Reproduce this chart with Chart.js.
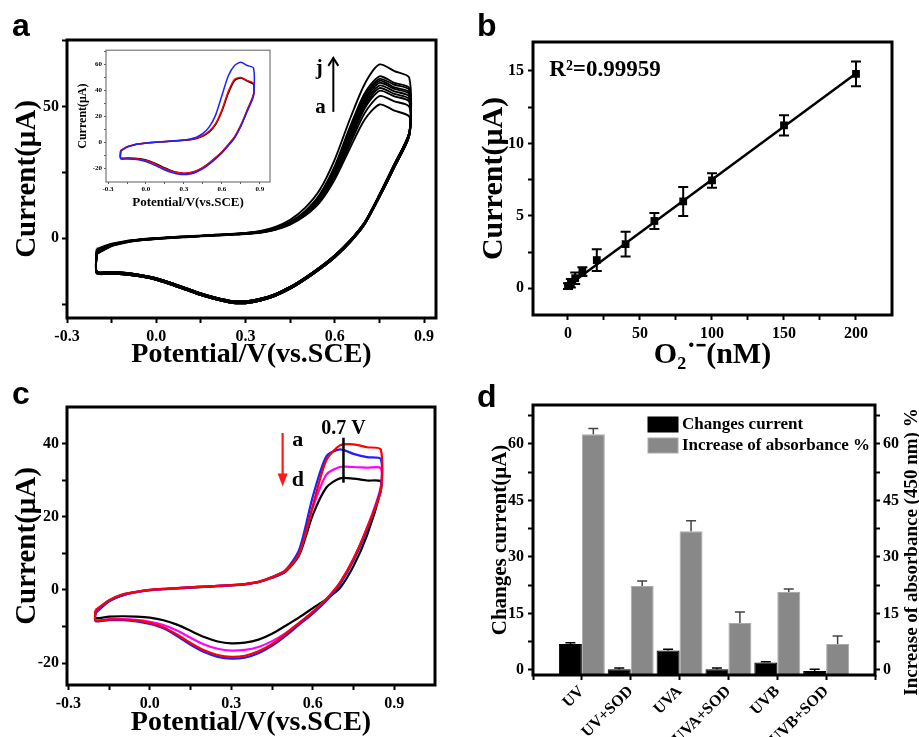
<!DOCTYPE html>
<html>
<head>
<meta charset="utf-8">
<script src="https://cdn.jsdelivr.net/npm/chart.js@4.4.1/dist/chart.umd.min.js"></script>
<style>
  html, body { margin: 0; padding: 0; background: #fff; }
  #fig { position: relative; width: 919px; height: 737px; overflow: hidden; background: #fff; }
  #fig canvas { position: absolute; }
  .tag { position: absolute; font: bold 32px 'Liberation Sans', Arial, sans-serif; line-height: 32px; color: #000; }
</style>
</head>
<body>
<div id="fig">
  <canvas id="cvA" width="460" height="370" style="left:0;top:0"></canvas>
  <canvas id="cvInset" width="205" height="168" style="left:72px;top:44px"></canvas>
  <canvas id="cvB" width="459" height="370" style="left:460px;top:0"></canvas>
  <canvas id="cvC" width="460" height="367" style="left:0;top:370px"></canvas>
  <canvas id="cvD" width="459" height="367" style="left:460px;top:370px"></canvas>
  <div class="tag" style="left:12px;top:9px">a</div>
  <div class="tag" style="left:477px;top:9px">b</div>
  <div class="tag" style="left:12px;top:377px">c</div>
  <div class="tag" style="left:477px;top:380px">d</div>
</div>
<script>
var SERIF = "'Liberation Serif','Times New Roman',serif";

// potential grid of a CV scan: forward sweep then reverse sweep (V vs SCE)
var potFwd = [-0.2, -0.15, -0.1, -0.05, 0, 0.05, 0.1, 0.15, 0.2, 0.25, 0.3, 0.35, 0.4, 0.45, 0.5, 0.55, 0.6, 0.65, 0.7, 0.75, 0.8, 0.85];
var potRev = [0.85, 0.8, 0.75, 0.7, 0.65, 0.6, 0.55, 0.5, 0.45, 0.4, 0.35, 0.3, 0.25, 0.2, 0.15, 0.1, 0.05, 0, -0.05, -0.1, -0.15, -0.2];
var potTicks = [-0.3, -0.15, 0, 0.15, 0.3, 0.45, 0.6, 0.75, 0.9];
var potLabels = [-0.3, 0, 0.3, 0.6, 0.9];

// panel a: scans a..j, forward branch (uA)
var scanA = [-6.0, -3.0, -1.6, -0.8, -0.3, 0.1, 0.4, 0.7, 1.0, 1.3, 1.6, 2.1, 3.2, 5.2, 8.5, 13.7, 22.4, 34.0, 45.0, 50.8, 48.5, 46.2];
var scanB = [-5.8, -2.9, -1.5, -0.7, -0.2, 0.2, 0.5, 0.8, 1.1, 1.4, 1.7, 2.2, 3.3, 5.4, 8.8, 14.2, 23.2, 35.5, 47.5, 54.0, 52.0, 50.0];
var scanC = [-5.6, -2.8, -1.5, -0.7, -0.2, 0.2, 0.5, 0.8, 1.1, 1.4, 1.7, 2.3, 3.4, 5.6, 9.0, 14.6, 23.9, 36.5, 49.3, 56.0, 53.9, 51.9];
var scanD = [-5.5, -2.8, -1.4, -0.6, -0.1, 0.2, 0.5, 0.8, 1.1, 1.4, 1.8, 2.3, 3.5, 5.7, 9.2, 14.9, 24.4, 37.3, 50.3, 57.0, 54.8, 52.8];
var scanE = [-5.3, -2.7, -1.4, -0.6, -0.1, 0.3, 0.6, 0.9, 1.2, 1.5, 1.8, 2.4, 3.5, 5.8, 9.4, 15.2, 25.0, 38.2, 51.3, 58.0, 55.8, 53.8];
var scanF = [-5.1, -2.6, -1.3, -0.6, -0.1, 0.3, 0.6, 0.9, 1.2, 1.5, 1.8, 2.4, 3.6, 5.9, 9.6, 15.6, 25.6, 39.0, 52.2, 59.0, 56.7, 54.7];
var scanG = [-4.9, -2.5, -1.3, -0.5, 0.0, 0.3, 0.6, 0.9, 1.2, 1.5, 1.9, 2.5, 3.7, 6.0, 9.8, 16.0, 26.2, 40.0, 53.0, 59.8, 57.3, 55.3];
var scanH = [-4.7, -2.4, -1.2, -0.5, 0.0, 0.3, 0.6, 0.9, 1.2, 1.5, 1.9, 2.5, 3.8, 6.1, 10.0, 16.3, 26.8, 41.0, 54.0, 60.5, 58.3, 56.3];
var scanI = [-4.4, -2.3, -1.2, -0.5, 0.0, 0.4, 0.7, 1.0, 1.3, 1.6, 2.0, 2.6, 3.9, 6.3, 10.3, 16.8, 27.5, 42.0, 55.0, 61.5, 59.0, 57.0];
var scanJ = [-4.0, -2.1, -1.0, -0.4, 0.1, 0.4, 0.7, 1.0, 1.3, 1.6, 2.0, 2.8, 4.3, 7.0, 11.5, 18.5, 30.0, 45.0, 58.5, 66.0, 63.5, 61.0];
// panel a: reverse branches (two slightly different groups)
var backInner = [40, 28, 16.5, 6, -1, -6.5, -11, -15, -18.5, -21.2, -23, -24, -23.8, -22.6, -21, -19, -17, -15.2, -14, -13.2, -12.8, -12.7];
var backOuter = [39, 27, 15.7, 5.3, -1.7, -7.2, -11.7, -15.7, -19.2, -21.9, -23.7, -24.7, -24.5, -23.2, -21.6, -19.6, -17.6, -15.8, -14.6, -13.8, -13.4, -13.3];

// inset of panel a
var insetBlueFwd = [-6.5, -3.5, -2, -1, -0.4, 0.1, 0.5, 0.8, 1.1, 1.5, 2.0, 2.8, 4.2, 7.0, 12.0, 21.0, 36.0, 51.0, 59.0, 61.5, 59.0, 57.0];
var insetRedFwd = [-6.0, -3.2, -1.8, -0.9, -0.3, 0.1, 0.5, 0.8, 1.1, 1.4, 1.8, 2.4, 3.4, 5.4, 8.8, 14.5, 25.0, 39.0, 48.5, 49.8, 47.5, 45.5];
var insetBlackFwd = [-6.2, -3.3, -1.9, -0.9, -0.3, 0.1, 0.4, 0.7, 1.0, 1.3, 1.7, 2.2, 3.1, 5.0, 8.2, 13.8, 24.0, 37.5, 47.5, 49.5, 47.0, 44.5];
var insetBlueRev = [36, 24, 12.5, 3.5, -2.5, -8, -12.5, -16.5, -20, -22.5, -24, -24.5, -24, -22.8, -21, -18.8, -16.5, -14.5, -13.3, -12.7, -12.5, -12.5];
var insetRedRev = [37, 25, 13.5, 4.5, -1.5, -7, -11.5, -15.5, -19, -21.5, -23, -23.5, -23, -21.8, -20, -17.8, -15.5, -13.8, -12.7, -12.2, -12, -12];
var insetBlackRev = [36.5, 24.5, 13, 4, -2, -7.2, -11.7, -15.7, -19.2, -21.7, -23.2, -23.6, -23, -21.5, -19.5, -17.2, -15, -13.4, -12.4, -12, -11.8, -11.8];

// panel b: calibration
var o2Conc = [0, 2, 5, 10, 20, 40, 60, 80, 100, 150, 200];
var o2Current = [0.15, 0.35, 0.7, 1.15, 1.95, 3.05, 4.65, 6.0, 7.45, 11.25, 14.8];
var o2Err = [0.2, 0.3, 0.4, 0.3, 0.75, 0.85, 0.55, 1.0, 0.5, 0.7, 0.85];
var fitConc = [0, 200];
var fitCurrent = [0.18, 14.82];

// panel c: curves a..d
var cRedFwd = [-5.5, -2.8, -1.2, -0.5, 0, 0.3, 0.5, 0.7, 0.9, 1.1, 1.3, 1.6, 2.2, 3.5, 5.3, 10, 23, 35.5, 39.5, 39.8, 39, 38.4];
var cBlueFwd = [-5.8, -2.9, -1.3, -0.5, 0, 0.3, 0.5, 0.7, 0.9, 1.1, 1.3, 1.6, 2.2, 3.5, 5.4, 11, 25.5, 36.5, 38.4, 37.2, 36.3, 35.8];
var cMagentaFwd = [-6.0, -3.0, -1.4, -0.6, -0.1, 0.2, 0.5, 0.7, 0.9, 1.1, 1.3, 1.6, 2.2, 3.4, 5.2, 10, 22.5, 31.5, 33.6, 33.6, 33.4, 33.3];
var cBlackFwd = [-6.3, -3.1, -1.5, -0.6, -0.1, 0.2, 0.4, 0.6, 0.8, 1.0, 1.2, 1.5, 2.1, 3.3, 5.0, 9.5, 20.5, 28, 30.5, 30.4, 29.9, 29.7];
var cRedRev = [27, 17, 8.5, 2, -2.5, -6, -9, -12, -14.8, -16.8, -18, -18.3, -17.8, -16.5, -14.5, -12.2, -10.2, -9, -8.4, -8.1, -8.1, -8.3];
var cBlueRev = [27.5, 16.5, 8, 1.5, -3, -6.5, -9.5, -12.6, -15.3, -17.3, -18.5, -18.8, -18.3, -17, -15, -12.6, -10.5, -9.3, -8.6, -8.3, -8.3, -8.5];
var cMagentaRev = [28, 17, 8.5, 2, -2.5, -6, -9, -11.8, -14, -15.6, -16.4, -16.6, -16.1, -14.9, -13.1, -11.1, -9.6, -8.7, -8.2, -8, -8, -8.3];
var cBlackRev = [27, 15, 6.5, 0.5, -2.5, -5, -7.5, -9.8, -12, -13.6, -14.4, -14.6, -14.1, -12.9, -11.2, -9.5, -8.3, -7.6, -7.3, -7.2, -7.3, -7.7];

// panel d: bars
var conditions = ['UV', 'UV+SOD', 'UVA', 'UVA+SOD', 'UVB', 'UVB+SOD'];
var currentChange = [6.9, 0.2, 5.2, 0.2, 2.0, -0.3];
var currentErr = [0.3, 0.3, 0.3, 0.3, 0.2, 0.5];
var absorbIncrease = [62.6, 22.3, 36.8, 12.5, 20.7, 6.9];
var absorbErr = [1.5, 1.3, 2.8, 2.9, 0.8, 2.1];

Chart.defaults.font.family = SERIF;
Chart.defaults.color = '#000';

function isIn(list, v) {
  return list.some(function (l) { return Math.abs(l - v) < 1e-9; });
}

function mkAxis(o) {
  return {
    type: 'linear',
    position: o.position,
    min: o.min,
    max: o.max,
    bounds: 'data',
    offset: false,
    afterBuildTicks: function (s) { s.ticks = o.ticks.map(function (v) { return { value: v }; }); },
    afterFit: function (s) { if (s.isHorizontal()) s.height = o.size; else s.width = o.size; },
    ticks: {
      autoSkip: false,
      maxRotation: o.rot || 0,
      minRotation: o.rot || 0,
      padding: o.pad,
      color: '#000',
      font: { family: SERIF, weight: 'bold', size: o.fs },
      callback: function (v) { return isIn(o.labels, v) ? o.fmt(v) : ''; }
    },
    grid: { drawOnChartArea: false, drawTicks: true, offset: false, tickLength: o.tl, tickWidth: o.tw || 2, tickColor: o.tc || '#000' },
    border: { display: false },
    title: o.title ? {
      display: true, text: o.title, color: '#000',
      font: { family: SERIF, weight: 'bold', size: o.tfs, lineHeight: 1 },
      padding: o.tpad
    } : { display: false }
  };
}

function fix1(v) { return v.toFixed(1); }
function int(v) { return String(Math.round(v)); }

function framePlugin(width, color) {
  return {
    id: 'frame',
    afterDraw: function (chart) {
      var a = chart.chartArea, c = chart.ctx;
      c.save();
      c.lineWidth = width;
      c.strokeStyle = color;
      c.strokeRect(a.left, a.top, a.right - a.left, a.bottom - a.top);
      c.restore();
    }
  };
}

// text, lines and arrows placed at data coordinates
function notesPlugin(items) {
  return {
    id: 'notes',
    afterDatasetsDraw: function (chart) {
      var c = chart.ctx, xs = chart.scales.x, ys = chart.scales.y;
      c.save();
      items.forEach(function (it) {
        var px = xs.getPixelForValue(it.x), py = ys.getPixelForValue(it.y);
        c.fillStyle = it.color || '#000';
        c.strokeStyle = it.color || '#000';
        if (it.text) {
          c.font = 'bold ' + it.size + 'px ' + SERIF;
          c.textAlign = it.align || 'center';
          c.textBaseline = 'middle';
          c.fillText(it.text, px, py);
          return;
        }
        var py2 = ys.getPixelForValue(it.y2);
        var dir = py2 > py ? 1 : -1;
        c.lineWidth = it.width;
        c.beginPath();
        c.moveTo(px, py);
        c.lineTo(px, it.head === 'solid' ? py2 - dir * 10 : py2);
        c.stroke();
        if (it.head === 'solid') {
          c.beginPath();
          c.moveTo(px - 5, py2 - dir * 13);
          c.lineTo(px + 5, py2 - dir * 13);
          c.lineTo(px, py2);
          c.closePath();
          c.fill();
        } else if (it.head === 'open') {
          c.beginPath();
          c.moveTo(px - 5, py2 - dir * 8);
          c.lineTo(px, py2);
          c.lineTo(px + 5, py2 - dir * 8);
          c.stroke();
        }
      });
      c.restore();
    }
  };
}

function errorBarsPlugin(sets) {
  return {
    id: 'errbars',
    afterDatasetsDraw: function (chart) {
      var c = chart.ctx;
      c.save();
      sets.forEach(function (s) {
        var meta = chart.getDatasetMeta(s.ds), ys = chart.scales[s.axis];
        c.strokeStyle = s.color;
        c.lineWidth = s.width;
        meta.data.forEach(function (el, i) {
          var x = el.x;
          var top = ys.getPixelForValue(s.values[i] + s.errors[i]);
          var bot = s.down ? ys.getPixelForValue(s.values[i] - s.errors[i]) : ys.getPixelForValue(s.values[i]);
          c.beginPath();
          c.moveTo(x, bot); c.lineTo(x, top);
          c.moveTo(x - s.cap / 2, top); c.lineTo(x + s.cap / 2, top);
          if (s.down) { c.moveTo(x - s.cap / 2, bot); c.lineTo(x + s.cap / 2, bot); }
          c.stroke();
        });
      });
      c.restore();
    }
  };
}

function loop(fwd, rev) {
  var pts = potFwd.map(function (e, i) { return { x: e, y: fwd[i] }; });
  potRev.forEach(function (e, i) { pts.push({ x: e, y: rev[i] }); });
  pts.push({ x: potFwd[0], y: fwd[0] });
  return pts;
}

function cvSet(fwd, rev, color, width) {
  return { data: loop(fwd, rev), borderColor: color, borderWidth: width, showLine: true, pointRadius: 0, tension: 0.25, fill: false };
}

function baseOpts(pad, scales) {
  return {
    responsive: false,
    animation: false,
    events: [],
    layout: { padding: pad },
    plugins: { legend: { display: false }, tooltip: { enabled: false } },
    scales: scales
  };
}

// ---------- panel a ----------
var aScans = [scanA, scanB, scanC, scanD, scanE, scanF, scanG, scanH, scanI, scanJ];
new Chart(document.getElementById('cvA'), {
  type: 'scatter',
  data: {
    datasets: aScans.map(function (s, k) { return cvSet(s, k % 2 ? backInner : backOuter, '#000', 1.9); })
  },
  options: baseOpts({ top: 40, right: 24, left: 0, bottom: 0 }, {
    x: mkAxis({ position: 'bottom', min: -0.3, max: 0.94, ticks: potTicks, labels: potLabels, fmt: fix1, size: 52, fs: 16, pad: 4, tl: 5,
      title: 'Potential/V(vs.SCE)', tfs: 28, tpad: { top: 0, bottom: 1 } }),
    y: mkAxis({ position: 'left', min: -30.3, max: 75.3, ticks: [-25, 0, 25, 50, 75], labels: [0, 50], fmt: int, size: 67, fs: 16, pad: 3, tl: 5,
      title: 'Current(\u03bcA)', tfs: 29, tpad: { top: 13.5, bottom: 0 } })
  }),
  plugins: [framePlugin(3, '#000'), notesPlugin([
    { x: 0.595, y: 48, y2: 68.5, width: 2, head: 'open' },
    { x: 0.548, y: 64.5, text: 'j', size: 21 },
    { x: 0.552, y: 49.5, text: 'a', size: 21 }
  ])]
});

// ---------- inset ----------
new Chart(document.getElementById('cvInset'), {
  type: 'scatter',
  data: {
    datasets: [
      cvSet(insetBlueFwd, insetBlueRev, '#1f1fff', 1.5),
      cvSet(insetRedFwd, insetRedRev, '#ff0000', 1.5),
      cvSet(insetBlackFwd, insetBlackRev, '#000', 1.5)
    ]
  },
  options: baseOpts({ top: 3, right: 7, left: 0, bottom: 0 }, {
    x: mkAxis({ position: 'bottom', min: -0.316, max: 0.98, ticks: potTicks, labels: potLabels, fmt: fix1, size: 30, fs: 7, pad: 1, tl: 2, tw: 1, tc: '#555',
      title: 'Potential/V(vs.SCE)', tfs: 13, tpad: { top: 0, bottom: 2.5 } }),
    y: mkAxis({ position: 'left', min: -30.2, max: 70.7, ticks: [-20, -10, 0, 10, 20, 30, 40, 50, 60, 70], labels: [-20, 0, 20, 40, 60], fmt: int, size: 34, fs: 7, pad: 2, tl: 2, tw: 1, tc: '#555',
      title: 'Current(\u03bcA)', tfs: 12, tpad: { top: 5, bottom: 0 } })
  }),
  plugins: [framePlugin(1.2, '#777')]
});

// ---------- panel b ----------
new Chart(document.getElementById('cvB'), {
  type: 'scatter',
  data: {
    datasets: [
      { data: fitConc.map(function (x, i) { return { x: x, y: fitCurrent[i] }; }), showLine: true, borderColor: '#000', borderWidth: 2.5, pointRadius: 0 },
      { data: o2Conc.map(function (x, i) { return { x: x, y: o2Current[i] }; }), pointStyle: 'rect', pointRadius: 5.5, backgroundColor: '#000', borderColor: '#000', borderWidth: 0 }
    ]
  },
  options: baseOpts({ top: 42, right: 27, left: 0, bottom: 0 }, {
    x: mkAxis({ position: 'bottom', min: -24.3, max: 225, ticks: [0, 25, 50, 75, 100, 125, 150, 175, 200], labels: [0, 50, 100, 150, 200], fmt: int, size: 55, fs: 16, pad: 4, tl: 5,
      title: 'O\u2082\u02d9\u207b(nM)', tfs: 30, tpad: { top: 0, bottom: 0 } }),
    y: mkAxis({ position: 'left', min: -1.84, max: 17, ticks: [0, 2.5, 5, 7.5, 10, 12.5, 15], labels: [0, 5, 10, 15], fmt: int, size: 73, fs: 16, pad: 4, tl: 5,
      title: 'Current(\u03bcA)', tfs: 30, tpad: { top: 19, bottom: 0 } })
  }),
  plugins: [framePlugin(3, '#000'),
    errorBarsPlugin([{ ds: 1, axis: 'y', values: o2Current, errors: o2Err, down: true, cap: 10, color: '#000', width: 2 }]),
    notesPlugin([{ x: -13, y: 15.05, text: 'R\u00b2=0.99959', size: 23, align: 'left' }])]
});

// ---------- panel c ----------
new Chart(document.getElementById('cvC'), {
  type: 'scatter',
  data: {
    datasets: [
      cvSet(cRedFwd, cRedRev, '#ff0000', 2.2),
      cvSet(cBlueFwd, cBlueRev, '#1f1fff', 2.2),
      cvSet(cMagentaFwd, cMagentaRev, '#ff00ff', 2.2),
      cvSet(cBlackFwd, cBlackRev, '#000', 2.2)
    ]
  },
  options: baseOpts({ top: 37, right: 25, left: 0, bottom: 0 }, {
    x: mkAxis({ position: 'bottom', min: -0.305, max: 1.05, ticks: potTicks, labels: potLabels, fmt: fix1, size: 52, fs: 16, pad: 4, tl: 5,
      title: 'Potential/V(vs.SCE)', tfs: 28, tpad: { top: 0, bottom: 0 } }),
    y: mkAxis({ position: 'left', min: -26, max: 50, ticks: [-20, -10, 0, 10, 20, 30, 40], labels: [-20, 0, 20, 40], fmt: int, size: 67, fs: 16, pad: 3, tl: 5,
      title: 'Current(\u03bcA)', tfs: 29, tpad: { top: 13.5, bottom: 0 } })
  }),
  plugins: [framePlugin(3, '#000'), notesPlugin([
    { x: 0.489, y: 42.9, y2: 28.3, width: 2.2, head: 'solid', color: '#ff1a1a' },
    { x: 0.545, y: 41, text: 'a', size: 22 },
    { x: 0.545, y: 30, text: 'd', size: 22 },
    { x: 0.713, y: 41.6, y2: 29.3, width: 2.5 },
    { x: 0.713, y: 44, text: '0.7 V', size: 20 }
  ])]
});

// ---------- panel d ----------
var dLegend = {
  id: 'dlegend',
  afterDraw: function (chart) {
    var c = chart.ctx, a = chart.chartArea;
    var rows = [{ fill: '#000', edge: '#000', text: 'Changes current' }, { fill: '#888', edge: '#aaa', text: 'Increase of absorbance %' }];
    c.save();
    rows.forEach(function (r, i) {
      var y = a.top + 12 + i * 21;
      c.fillStyle = r.fill; c.fillRect(a.left + 115, y, 30, 15);
      c.strokeStyle = r.edge; c.lineWidth = 1; c.strokeRect(a.left + 115, y, 30, 15);
      c.fillStyle = '#000';
      c.font = 'bold 17px ' + SERIF;
      c.textAlign = 'left'; c.textBaseline = 'middle';
      c.fillText(r.text, a.left + 149, y + 8);
    });
    // right axis title reads bottom to top
    c.translate(452, (a.top + a.bottom) / 2 + 12);
    c.rotate(-Math.PI / 2);
    c.font = 'bold 19px ' + SERIF;
    c.textAlign = 'center';
    c.fillText('Increase of absorbance (450 nm) %', 0, 0);
    c.restore();
  }
};

var dTicks = [0, 7.5, 15, 22.5, 30, 37.5, 45, 52.5, 60, 67.5];
var dLabels = [0, 15, 30, 45, 60];
var xCat = mkAxis({ position: 'bottom', min: -1, max: 6, ticks: [-1, 0, 1, 2, 3, 4, 5, 6], labels: [0, 1, 2, 3, 4, 5],
  fmt: function (v) { return conditions[Math.round(v)]; }, size: 62, fs: 16, pad: 2, tl: 5, rot: 45 });

new Chart(document.getElementById('cvD'), {
  type: 'bar',
  data: {
    datasets: [
      { data: currentChange.map(function (v, i) { return { x: i, y: v }; }), yAxisID: 'y', base: -1.33,
        backgroundColor: '#000', borderColor: '#000', borderWidth: 1, categoryPercentage: 0.94, barPercentage: 1 },
      { data: absorbIncrease.map(function (v, i) { return { x: i, y: v }; }), yAxisID: 'y1', base: -1.33,
        backgroundColor: '#888', borderColor: '#aaa', borderWidth: 1, categoryPercentage: 0.94, barPercentage: 1 }
    ]
  },
  options: baseOpts({ top: 35, right: 0, left: 0, bottom: 0 }, {
    x: xCat,
    y: mkAxis({ position: 'left', min: -1.33, max: 70.35, ticks: dTicks, labels: dLabels, fmt: int, size: 73, fs: 16, pad: 4, tl: 5,
      title: 'Changes current(\u03bcA)', tfs: 21, tpad: { top: 30, bottom: 0 } }),
    y1: mkAxis({ position: 'right', min: -1.33, max: 70.35, ticks: dTicks, labels: dLabels, fmt: int, size: 44, fs: 16, pad: 3, tl: 5 })
  }),
  plugins: [framePlugin(3, '#000'),
    errorBarsPlugin([
      { ds: 0, axis: 'y', values: currentChange, errors: currentErr, down: false, cap: 10, color: '#000', width: 1.5 },
      { ds: 1, axis: 'y1', values: absorbIncrease, errors: absorbErr, down: false, cap: 10, color: '#444', width: 1.5 }
    ]), dLegend]
});
</script>
</body>
</html>
